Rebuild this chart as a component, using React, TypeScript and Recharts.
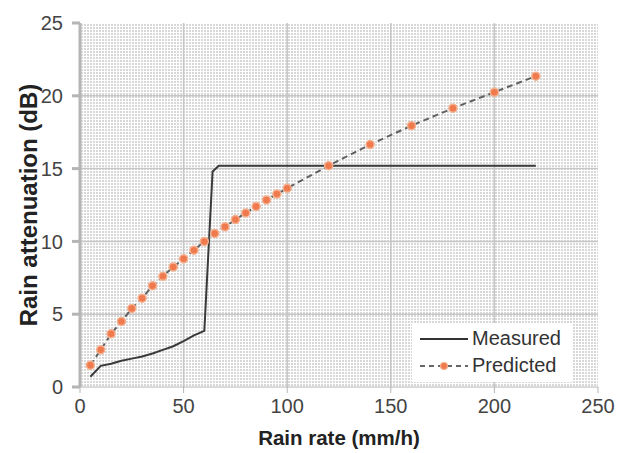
import { LineChart, Line, XAxis, YAxis, CartesianGrid, Label } from 'recharts'

const predictedRate = [5, 10, 15, 20, 25, 30, 35, 40, 45, 50, 55, 60, 65, 70, 75, 80, 85, 90, 95, 100, 120, 140, 160, 180, 200, 220]
const predictedAtten = [1.5, 2.55, 3.65, 4.5, 5.4, 6.1, 6.95, 7.6, 8.25, 8.8, 9.4, 10.0, 10.55, 11.0, 11.5, 11.95, 12.4, 12.85, 13.25, 13.65, 15.2, 16.65, 17.95, 19.15, 20.25, 21.35]

const measuredRate = [5, 10, 15, 20, 25, 30, 35, 40, 45, 50, 55, 60, 64, 67, 220]
const measuredAtten = [0.7, 1.45, 1.6, 1.8, 1.95, 2.1, 2.3, 2.55, 2.8, 3.15, 3.55, 3.85, 14.8, 15.2, 15.2]

const xTicks = [0, 50, 100, 150, 200, 250]
const yTicks = [0, 5, 10, 15, 20, 25]

const predicted = predictedRate.map((rate, i) => ({ rate, atten: predictedAtten[i] }))
const measured = measuredRate.map((rate, i) => ({ rate, atten: measuredAtten[i] }))

const font = '"Liberation Sans", Arial, sans-serif'

// legend drawn over the plot, bottom right like the original
function LegendBox() {
  return (
    <div style={{ position: 'absolute', left: 412, top: 323, background: '#fff', width: 160, height: 59, fontFamily: font, fontSize: 20, color: '#333', lineHeight: '27px', paddingTop: 2, boxSizing: 'border-box' }}>
      <div style={{ display: 'flex', alignItems: 'center' }}>
        <svg width={60} height={20}>
          <line x1={8} y1={10} x2={56} y2={10} stroke="#333" strokeWidth={2} />
        </svg>
        <span>Measured</span>
      </div>
      <div style={{ display: 'flex', alignItems: 'center' }}>
        <svg width={60} height={20}>
          <line x1={8} y1={10} x2={56} y2={10} stroke="#666" strokeWidth={2} strokeDasharray="5 4" />
          <circle cx={32} cy={10} r={3.5} fill="#ef7a4e" stroke="#f5b08f" strokeWidth={1.2} />
        </svg>
        <span>Predicted</span>
      </div>
    </div>
  )
}

export default function App() {
  return (
    <div style={{ position: 'absolute', left: 0, top: 0, width: 631, height: 453, background: '#fff' }}>
      <LineChart width={631} height={453} margin={{ top: 23, right: 33, bottom: 0, left: 0 }}>
        <defs>
          <pattern id="dots" width={3} height={3} patternUnits="userSpaceOnUse">
            <rect width={3} height={3} fill="#ffffff" />
            <rect width={2} height={2} fill="#d8d8d8" />
          </pattern>
        </defs>
        <CartesianGrid fill="url(#dots)" stroke="#c6c6c6" strokeWidth={1.5} horizontalValues={[5, 10, 15, 20]} verticalValues={[50, 100, 150, 200]} />
        <XAxis
          type="number"
          dataKey="rate"
          domain={[0, 250]}
          ticks={xTicks}
          allowDuplicatedCategory={false}
          height={66}
          stroke="#b5b5b5"
          tickSize={6}
          tickMargin={6}
          tick={{ fill: '#444', fontSize: 20, fontFamily: font }}
        >
          <Label value="Rain rate (mm/h)" position="insideBottom" offset={8} style={{ fill: '#222', fontSize: 20.5, fontWeight: 'bold', fontFamily: font }} />
        </XAxis>
        <YAxis
          type="number"
          domain={[0, 25]}
          ticks={yTicks}
          width={80}
          stroke="#b5b5b5"
          strokeWidth={3}
          tickSize={8}
          tickMargin={9}
          tick={{ fill: '#444', fontSize: 20, fontFamily: font }}
        >
          <Label value="Rain attenuation (dB)" position="center" angle={-90} dx={-12} style={{ fill: '#222', fontSize: 24, fontWeight: 'bold', fontFamily: font, textAnchor: 'middle' }} />
        </YAxis>
        <Line
          data={measured}
          dataKey="atten"
          name="Measured"
          type="linear"
          stroke="#3a3a3a"
          strokeWidth={2}
          dot={false}
          isAnimationActive={false}
        />
        <Line
          data={predicted}
          dataKey="atten"
          name="Predicted"
          type="linear"
          stroke="#606060"
          strokeWidth={2}
          strokeDasharray="6 4"
          dot={{ r: 4, fill: '#ef7a4e', stroke: '#f5b08f', strokeWidth: 1.5, strokeDasharray: '' }}
          isAnimationActive={false}
        />
      </LineChart>
      <LegendBox />
    </div>
  )
}
